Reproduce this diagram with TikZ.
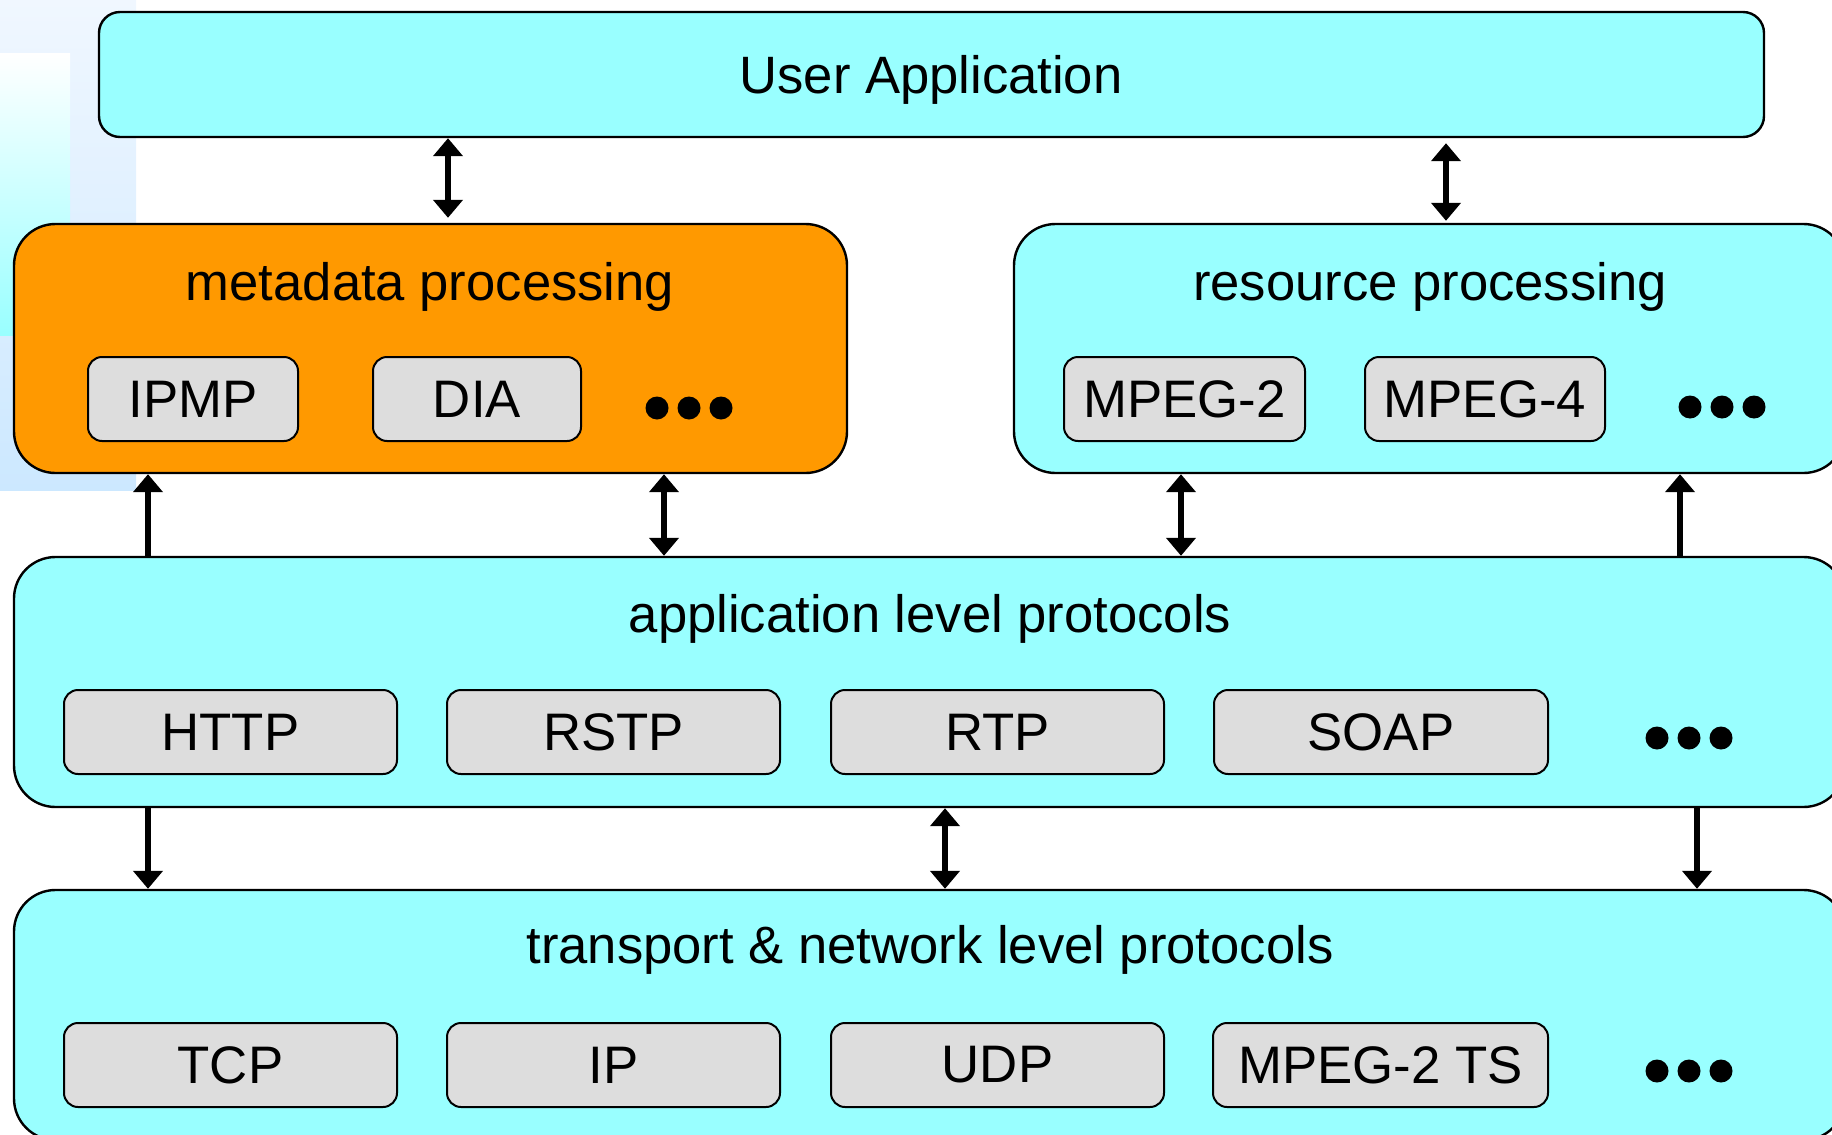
\documentclass[tikz,border=0pt]{standalone}
\usepackage{fontspec}
\setmainfont{Liberation Sans}
\usetikzlibrary{arrows.meta,fit}
\definecolor{cyanfill}{HTML}{99FFFF}
\definecolor{orangefill}{HTML}{FF9900}
\definecolor{grayfill}{HTML}{DDDDDD}
\definecolor{bgtop}{HTML}{F0F7FF}
\definecolor{bgbot}{HTML}{CCE8FF}
\begin{document}
\begin{tikzpicture}[x=0.5pt,y=-0.5pt,
  bigbox/.style={draw=black, line width=1.2pt, rounded corners=20.75pt, inner sep=0pt, fill=cyanfill},
  smallbox/.style={draw=black, line width=1pt, rounded corners=7pt, inner sep=0pt, fill=grayfill,
    minimum height=42pt, font=\fontsize{26.4pt}{31pt}\selectfont},
  lbl/.style={font=\fontsize{26.3pt}{31pt}\selectfont, anchor=base, inner sep=0pt},
  tipA/.tip={Triangle[width=14.5pt,length=9pt]},
  dbl/.style={line width=2.6pt, tipA-tipA},
  onearr/.style={line width=2.6pt, -tipA},
  dot/.style={fill=black}
]
\useasboundingbox (0,0) rectangle (1832,1135);
\clip (0,0) rectangle (1832,1135);
% background decoration
\shade[top color=bgtop, bottom color=bgbot] (0,0) rectangle (136,490);
\shade[top color=white, bottom color=cyanfill] (0,53) rectangle (70,335);

% main boxes
\node[bigbox, rounded corners=10.5pt, fit={(99,12) (1764,137)}] (ua) {};
\node[lbl] (uat) at (931,93) {User Application};

\node[bigbox, fill=orangefill, fit={(14,224) (847,473)}] (meta) {};
\node[lbl] (metat) at (430,300) {metadata processing};

\node[bigbox, fit={(1014,224) (1845,473)}] (res) {};
\node[lbl] (rest) at (1430,300) {resource processing};

\node[bigbox, fit={(14,557) (1845,807)}] (app) {};
\node[lbl] (appt) at (930,632) {application level protocols};

\node[bigbox, fit={(14,890) (1845,1140)}] (tnl) {};
\node[lbl] (tnlt) at (930,963) {transport \& network level protocols};

% inner boxes
\node[smallbox, minimum width=105pt] (ipmp) at (193,399) {IPMP};
\node[smallbox, minimum width=104pt] (dia) at (477,399) {DIA};
\node[smallbox, minimum width=120.5pt] (mp2) at (1184.5,399) {MPEG-2};
\node[smallbox, minimum width=120pt] (mp4) at (1485,399) {MPEG-4};

\node[smallbox, minimum width=166.5pt] (http) at (230.5,732) {HTTP};
\node[smallbox, minimum width=166.5pt] (rstp) at (613.5,732) {RSTP};
\node[smallbox, minimum width=166.5pt] (rtp) at (997.5,732) {RTP};
\node[smallbox, minimum width=167pt] (soap) at (1381,732) {SOAP};

\node[smallbox, minimum width=166.5pt] (tcp) at (230.5,1065) {TCP};
\node[smallbox, minimum width=166.5pt] (ip) at (613.5,1065) {IP};
\node[smallbox, minimum width=166.5pt] (udp) at (997.5,1065) {UDP};
\node[smallbox, minimum width=167.5pt] (ts) at (1380.5,1065) {MPEG-2 TS};

% ellipsis dots
\foreach \cx in {657,689,721} \fill[dot] (\cx,408) circle[radius=5.75pt];
\foreach \cx in {1690,1722,1754} \fill[dot] (\cx,407) circle[radius=5.75pt];
\foreach \cx in {1657,1689,1721} \fill[dot] (\cx,738) circle[radius=5.75pt];
\foreach \cx in {1657,1689,1721} \fill[dot] (\cx,1071) circle[radius=5.75pt];

% arrow columns
\coordinate (c1) at (448,0);
\coordinate (c2) at (1446,0);
\coordinate (c3) at (148,0);
\coordinate (c4) at (664,0);
\coordinate (c5) at (1181,0);
\coordinate (c6) at (1680,0);
\coordinate (c7) at (945,0);
\coordinate (c8) at (1697,0);

\draw[dbl, shorten >=2.5pt] (ua.south -| c1) -- (meta.north -| c1);
\draw[dbl, shorten <=2.5pt, shorten >=1pt] (ua.south -| c2) -- (res.north -| c2);
\draw[onearr] (app.north -| c3) -- (meta.south -| c3);
\draw[dbl] (app.north -| c4) -- (meta.south -| c4);
\draw[dbl] (app.north -| c5) -- (res.south -| c5);
\draw[onearr] (app.north -| c6) -- (res.south -| c6);
\draw[onearr] (app.south -| c3) -- (tnl.north -| c3);
\draw[dbl] (app.south -| c7) -- (tnl.north -| c7);
\draw[onearr] (app.south -| c8) -- (tnl.north -| c8);
\end{tikzpicture}
\end{document}
